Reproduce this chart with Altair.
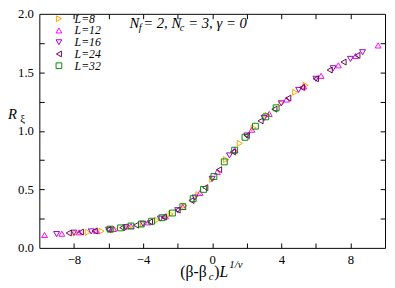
import altair as alt
import pandas as pd

# ---------------- data ----------------
series = ["L=8", "L=12", "L=16", "L=24", "L=32"]
colors = ["#FFA500", "#FF00FF", "#9400D3", "#670748", "#008B00"]
shapes = ["triangle-right", "triangle-up", "triangle-down", "triangle-left", "square"]

x_L8 = [-7.9, -7.2, -6.4, -5.6, -4.8, -4.0, -3.2, -2.4, -1.6, -0.8, 0.0, 0.8, 1.6, 2.4, 3.2, 4.0, 4.8, 5.4]
R_L8 = [0.125, 0.133, 0.143, 0.158, 0.178, 0.204, 0.238, 0.290, 0.360, 0.455, 0.585, 0.755, 0.893, 1.025, 1.133, 1.235, 1.330, 1.390]

x_L12 = [-9.7, -8.7, -7.7, -6.7, -5.7, -4.7, -3.7, -2.7, -1.7, -0.7, 0.3, 1.3, 2.3, 3.3, 4.3, 5.3, 6.3, 7.3, 8.3, 9.6]
R_L12 = [0.110, 0.121, 0.133, 0.146, 0.162, 0.186, 0.218, 0.270, 0.350, 0.470, 0.650, 0.835, 1.010, 1.145, 1.268, 1.380, 1.470, 1.560, 1.640, 1.730]

x_L16 = [-9.0, -8.0, -7.0, -6.0, -5.0, -4.0, -3.0, -2.0, -1.0, 0.0, 1.0, 2.0, 3.0, 4.0, 5.0, 6.0, 7.0, 8.0, 8.7]
R_L16 = [0.118, 0.130, 0.141, 0.156, 0.177, 0.206, 0.250, 0.322, 0.430, 0.590, 0.790, 0.960, 1.110, 1.235, 1.350, 1.445, 1.535, 1.615, 1.672]

x_L24 = [-8.3, -7.6, -6.8, -6.0, -5.2, -4.4, -3.6, -2.8, -2.0, -1.2, -0.4, 0.4, 1.2, 2.0, 2.8, 3.6, 4.4, 5.2, 6.0, 6.8, 7.6, 8.4]
R_L24 = [0.127, 0.135, 0.145, 0.157, 0.173, 0.194, 0.222, 0.263, 0.323, 0.405, 0.515, 0.668, 0.820, 0.960, 1.085, 1.185, 1.280, 1.370, 1.445, 1.520, 1.588, 1.645]

x_L32 = [-5.9, -5.3, -4.7, -4.1, -3.5, -2.9, -2.3, -1.7, -1.1, -0.5, 0.1, 0.7, 1.3, 1.9, 2.5, 3.1, 3.7]
R_L32 = [0.160, 0.171, 0.187, 0.204, 0.228, 0.258, 0.298, 0.352, 0.420, 0.500, 0.610, 0.735, 0.835, 0.945, 1.040, 1.120, 1.197]

x_labels = [-8, -4, 0, 4, 8]
x_ticks = [-8, -6, -4, -2, 0, 2, 4, 6, 8]
y_labels = [0.0, 0.5, 1.0, 1.5, 2.0]
y_ticks = [0.25, 0.5, 0.75, 1.0, 1.25, 1.5, 1.75]

rows = []
for name, xs, rs in zip(series, [x_L8, x_L12, x_L16, x_L24, x_L32],
                        [R_L8, R_L12, R_L16, R_L24, R_L32]):
    for a, b in zip(xs, rs):
        rows.append({"L": name, "x": a, "R": b})
df = pd.DataFrame(rows)

# ---------------- layout ----------------
W, H = 353, 239
PL, PT = 32, 3          # padding -> plot origin at page (40, 11)
FONT = "'Liberation Serif', 'Times New Roman', Times, serif"

xscale = alt.Scale(domain=[-10, 10], nice=False, zero=False)
yscale = alt.Scale(domain=[0, 2], nice=False, zero=False)

legend = alt.Legend(title=None, orient="none", legendX=14, legendY=-1, padding=0,
                    rowPadding=-0.75, labelFont=FONT, labelFontStyle="italic",
                    labelFontSize=12, labelColor="black", labelOffset=10,
                    symbolSize=34, symbolStrokeWidth=1)

label_axis_common = dict(ticks=False, domain=False, grid=False, labelFont=FONT,
                         labelFontSize=13, labelColor="black", labelPadding=6)

base = alt.Chart(df)

points = base.mark_point(filled=False, size=36, strokeWidth=1, opacity=1).encode(
    x=alt.X("x:Q", scale=xscale, title=None,
            axis=alt.Axis(orient="bottom", values=x_labels, format="d", **label_axis_common)),
    y=alt.Y("R:Q", scale=yscale, title=None,
            axis=alt.Axis(orient="left", values=y_labels, format=".1f", **label_axis_common)),
    color=alt.Color("L:N", scale=alt.Scale(domain=series, range=colors), legend=legend),
    shape=alt.Shape("L:N", scale=alt.Scale(domain=series, range=shapes), legend=legend),
)

tick_common = dict(labels=False, domain=False, grid=False, ticks=True, tickSize=5,
                   tickColor="black", tickWidth=1)

ticks_a = base.mark_point(opacity=0).encode(
    x=alt.X("x:Q", scale=xscale, title=None,
            axis=alt.Axis(orient="top", offset=-H, values=x_ticks, **tick_common)),
    y=alt.Y("R:Q", scale=yscale, title=None,
            axis=alt.Axis(orient="right", offset=-W, values=y_ticks, **tick_common)),
)
ticks_b = base.mark_point(opacity=0).encode(
    x=alt.X("x:Q", scale=xscale, title=None,
            axis=alt.Axis(orient="bottom", offset=-H, values=x_ticks, **tick_common)),
    y=alt.Y("R:Q", scale=yscale, title=None,
            axis=alt.Axis(orient="left", offset=-W, values=y_ticks, **tick_common)),
)


def txt(s, px, py, size, italic=True):
    """Text fragment placed at page pixel (px, py) = left / baseline."""
    return alt.Chart(pd.DataFrame({"t": [s]})).mark_text(
        align="left", baseline="alphabetic", font=FONT, fontSize=size,
        fontStyle="italic" if italic else "normal", color="black"
    ).encode(text="t:N", x=alt.value(px - PL - 8), y=alt.value(py - PT - 8))


texts = [
    # annotation N_f = 2, N_c = 3, γ = 0
    txt("N", 132, 25, 15),
    txt("f", 141.5, 29, 10.5),
    txt("= 2, N", 146, 25, 15),
    txt("c", 183.5, 29, 10.5),
    txt("= 3, γ = 0", 192, 25, 15),
    # y title R_ξ
    txt("R", 8, 118, 15),
    txt("ξ", 20.5, 121, 11, italic=False),
    # x title (β-β_c)L^{1/ν}
    txt("(β-β", 184, 280, 16, italic=False),
    txt("c", 213, 283, 11),
    txt(")", 218.5, 280, 16, italic=False),
    txt("L", 224, 280, 16),
    txt("1/ν", 234, 271, 11),
]

chart = alt.layer(points, ticks_a, ticks_b, *texts).resolve_axis(
    x="independent", y="independent"
).properties(
    width=W, height=H,
    autosize=alt.AutoSizeParams(type="none"),
    padding={"left": PL, "top": PT, "right": 2, "bottom": 280 - PT - H},
).configure_view(stroke="black", strokeWidth=1)

chart.save("out.html", embed_options={"renderer": "svg", "actions": False})
